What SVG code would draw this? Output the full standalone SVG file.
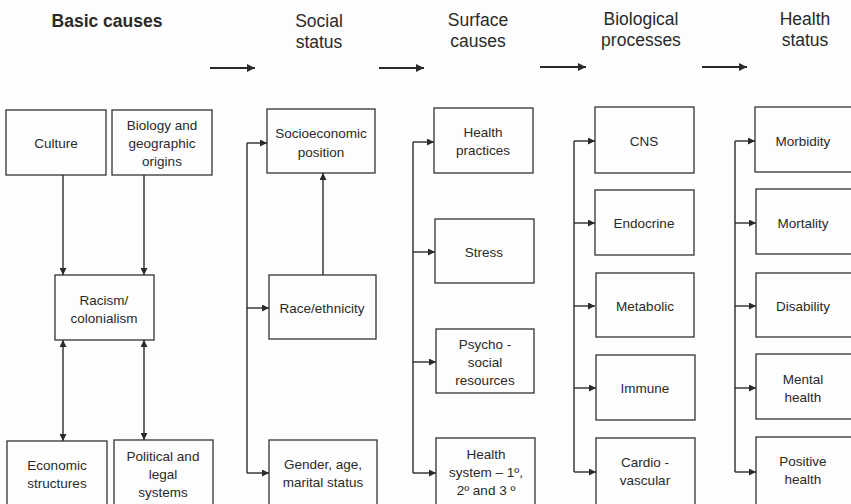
<svg xmlns="http://www.w3.org/2000/svg" width="851" height="504" viewBox="0 0 851 504">
<defs>
<marker id="ah" viewBox="0 0 10 10" refX="10" refY="5" markerWidth="7" markerHeight="7" markerUnits="userSpaceOnUse" orient="auto-start-reverse">
<path d="M0,0 L10,5 L0,10 z" fill="#2a2a2a"/>
</marker>
<marker id="hh" viewBox="0 0 10 10" refX="10" refY="5" markerWidth="10" markerHeight="8" markerUnits="userSpaceOnUse" orient="auto">
<path d="M0,0 L10,5 L0,10 z" fill="#2a2a2a"/>
</marker>
</defs>
<style>
.box{fill:none;stroke:#333;stroke-width:1.3}
.t{font-family:"Liberation Sans",Arial,sans-serif;font-size:13.5px;fill:#2a2a2a;text-anchor:middle}
.h{font-family:"Liberation Sans",Arial,sans-serif;font-size:17.5px;fill:#2a2a2a;text-anchor:middle}
.hb{font-weight:bold}
.c{fill:none;stroke:#2a2a2a;stroke-width:1.4}
.ha{fill:none;stroke:#2a2a2a;stroke-width:2.2}
</style>
<rect width="851" height="504" fill="#fdfdfd"/>
<g id="headers">
<text class="h hb" x="107" y="27">Basic causes</text>
<text class="h" x="319" y="27">Social</text><text class="h" x="319" y="48">status</text>
<text class="h" x="478" y="26">Surface</text><text class="h" x="478" y="47">causes</text>
<text class="h" x="641" y="25">Biological</text><text class="h" x="641" y="46">processes</text>
<text class="h" x="805" y="25">Health</text><text class="h" x="805" y="46">status</text>
</g>
<g id="connectors">
<line class="ha" x1="210" y1="68" x2="255" y2="68" marker-end="url(#hh)"/>
<line class="ha" x1="379" y1="68" x2="424" y2="68" marker-end="url(#hh)"/>
<line class="ha" x1="540" y1="67" x2="586" y2="67" marker-end="url(#hh)"/>
<line class="ha" x1="702" y1="67" x2="747" y2="67" marker-end="url(#hh)"/>
<line class="c" x1="63" y1="175" x2="63" y2="275" marker-end="url(#ah)"/>
<line class="c" x1="144" y1="175" x2="144" y2="275" marker-end="url(#ah)"/>
<line class="c" x1="63" y1="340" x2="63" y2="441" marker-start="url(#ah)" marker-end="url(#ah)"/>
<line class="c" x1="144" y1="340" x2="144" y2="440" marker-start="url(#ah)" marker-end="url(#ah)"/>
<line class="c" x1="323" y1="275" x2="323" y2="173" marker-end="url(#ah)"/>
<path class="c" d="M247,143 V473"/>
<line class="c" x1="247" y1="143" x2="267" y2="143" marker-end="url(#ah)"/>
<line class="c" x1="247" y1="308" x2="269" y2="308" marker-end="url(#ah)"/>
<line class="c" x1="247" y1="473" x2="269" y2="473" marker-end="url(#ah)"/>
<path class="c" d="M413,142 V473"/>
<line class="c" x1="413" y1="142" x2="434" y2="142" marker-end="url(#ah)"/>
<line class="c" x1="413" y1="252" x2="435" y2="252" marker-end="url(#ah)"/>
<line class="c" x1="413" y1="362" x2="436" y2="362" marker-end="url(#ah)"/>
<line class="c" x1="413" y1="473" x2="436" y2="473" marker-end="url(#ah)"/>
<path class="c" d="M574,141 V472"/>
<line class="c" x1="574" y1="141" x2="595" y2="141" marker-end="url(#ah)"/>
<line class="c" x1="574" y1="223" x2="595" y2="223" marker-end="url(#ah)"/>
<line class="c" x1="574" y1="306" x2="595" y2="306" marker-end="url(#ah)"/>
<line class="c" x1="574" y1="388" x2="596" y2="388" marker-end="url(#ah)"/>
<line class="c" x1="574" y1="472" x2="596" y2="472" marker-end="url(#ah)"/>
<path class="c" d="M735,141 V472"/>
<line class="c" x1="735" y1="141" x2="755" y2="141" marker-end="url(#ah)"/>
<line class="c" x1="735" y1="223" x2="756" y2="223" marker-end="url(#ah)"/>
<line class="c" x1="735" y1="306" x2="756" y2="306" marker-end="url(#ah)"/>
<line class="c" x1="735" y1="388" x2="756" y2="388" marker-end="url(#ah)"/>
<line class="c" x1="735" y1="472" x2="756" y2="472" marker-end="url(#ah)"/>
</g>
<g id="culture"><rect class="box" x="6" y="110" width="100" height="65"/><text class="t" x="56" y="148">Culture</text></g>
<g id="biology"><rect class="box" x="112" y="110" width="100" height="65"/><text class="t" x="162" y="130">Biology and</text><text class="t" x="162" y="148">geographic</text><text class="t" x="162" y="166">origins</text></g>
<g id="racism"><rect class="box" x="55" y="275" width="99" height="65"/><text class="t" x="104" y="305">Racism/</text><text class="t" x="104" y="323">colonialism</text></g>
<g id="economic"><rect class="box" x="7" y="441" width="100" height="70"/><text class="t" x="57" y="470">Economic</text><text class="t" x="57" y="488">structures</text></g>
<g id="political"><rect class="box" x="114" y="440" width="99" height="70"/><text class="t" x="163" y="461">Political and</text><text class="t" x="163" y="479">legal</text><text class="t" x="163" y="497">systems</text></g>
<g id="socioeconomic"><rect class="box" x="267" y="109" width="108" height="64"/><text class="t" x="321" y="138">Socioeconomic</text><text class="t" x="321" y="157">position</text></g>
<g id="race"><rect class="box" x="269" y="275" width="107" height="64"/><text class="t" x="322" y="313">Race/ethnicity</text></g>
<g id="gender"><rect class="box" x="269" y="440" width="108" height="70"/><text class="t" x="323" y="469">Gender, age,</text><text class="t" x="323" y="487">marital status</text></g>
<g id="health-practices"><rect class="box" x="434" y="108" width="99" height="65"/><text class="t" x="483" y="137">Health</text><text class="t" x="483" y="155">practices</text></g>
<g id="stress"><rect class="box" x="435" y="219" width="99" height="64"/><text class="t" x="484" y="257">Stress</text></g>
<g id="psychosocial"><rect class="box" x="436" y="329" width="98" height="64"/><text class="t" x="485" y="349">Psycho -</text><text class="t" x="485" y="367">social</text><text class="t" x="485" y="385">resources</text></g>
<g id="health-system"><rect class="box" x="436" y="438" width="99" height="72"/><text class="t" x="486" y="459">Health</text><text class="t" x="486" y="477">system  – 1º,</text><text class="t" x="486" y="495">2º and 3 º</text></g>
<g id="cns"><rect class="box" x="595" y="107" width="99" height="66"/><text class="t" x="644" y="146">CNS</text></g>
<g id="endocrine"><rect class="box" x="595" y="190" width="99" height="65"/><text class="t" x="644" y="228">Endocrine</text></g>
<g id="metabolic"><rect class="box" x="596" y="273" width="98" height="64"/><text class="t" x="645" y="311">Metabolic</text></g>
<g id="immune"><rect class="box" x="596" y="355" width="99" height="65"/><text class="t" x="645" y="393">Immune</text></g>
<g id="cardiovascular"><rect class="box" x="596" y="438" width="99" height="72"/><text class="t" x="645" y="467">Cardio -</text><text class="t" x="645" y="485">vascular</text></g>
<g id="morbidity"><rect class="box" x="755" y="107" width="100" height="65"/><text class="t" x="803" y="146">Morbidity</text></g>
<g id="mortality"><rect class="box" x="756" y="189" width="100" height="65"/><text class="t" x="803" y="228">Mortality</text></g>
<g id="disability"><rect class="box" x="756" y="273" width="100" height="64"/><text class="t" x="803" y="311">Disability</text></g>
<g id="mental-health"><rect class="box" x="756" y="354" width="100" height="65"/><text class="t" x="803" y="384">Mental</text><text class="t" x="803" y="402">health</text></g>
<g id="positive-health"><rect class="box" x="756" y="437" width="100" height="73"/><text class="t" x="803" y="466">Positive</text><text class="t" x="803" y="484">health</text></g>
</svg>
